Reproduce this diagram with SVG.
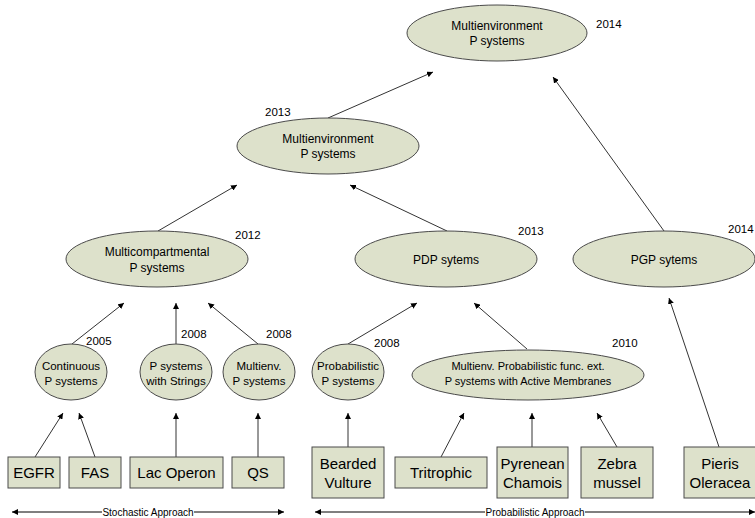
<svg xmlns="http://www.w3.org/2000/svg" width="755" height="518" viewBox="0 0 755 518">
<style>
.el{fill:#dde1cb;stroke:#4a4a4a;stroke-width:1}
.bx{fill:#dde1cb;stroke:#4a4a4a;stroke-width:1}
.et{font-family:"Liberation Sans",Arial,sans-serif;font-size:12px;fill:#000;text-anchor:middle}
.st{font-family:"Liberation Sans",Arial,sans-serif;font-size:11.5px;fill:#000;text-anchor:middle}
.sw{font-family:"Liberation Sans",Arial,sans-serif;font-size:11px;fill:#000;text-anchor:middle}
.bt{font-family:"Liberation Sans",Arial,sans-serif;font-size:15px;fill:#000;text-anchor:middle}
.yr{font-family:"Liberation Sans",Arial,sans-serif;font-size:11.5px;fill:#000}
.ax{font-family:"Liberation Sans",Arial,sans-serif;font-size:10px;fill:#000;text-anchor:middle}
.cn line{stroke:#333;stroke-width:1;marker-end:url(#ah)}
</style>
<defs>
<marker id="ah" viewBox="0 0 10 10" refX="10" refY="5" markerWidth="6" markerHeight="6" markerUnits="userSpaceOnUse" orient="auto-start-reverse">
<path d="M0,0 L10,5 L0,10 z" fill="#000"/>
</marker>
</defs>
<rect width="755" height="518" fill="#fff"/>

<g id="connectors" class="cn">
<line x1="328" y1="118" x2="433" y2="72"/>
<line x1="664" y1="231" x2="553" y2="77"/>
<line x1="158" y1="231" x2="237" y2="185"/>
<line x1="447" y1="231" x2="350" y2="185"/>
<line x1="72" y1="344" x2="124" y2="303"/>
<line x1="176" y1="344" x2="176" y2="303"/>
<line x1="258" y1="344" x2="208" y2="303"/>
<line x1="348" y1="344" x2="417" y2="303"/>
<line x1="527" y1="349" x2="474" y2="303"/>
<line x1="719" y1="447" x2="669" y2="298"/>
<line x1="35" y1="457" x2="63" y2="413"/>
<line x1="95" y1="457" x2="79" y2="413"/>
<line x1="176" y1="457" x2="176" y2="413"/>
<line x1="258" y1="457" x2="258" y2="413"/>
<line x1="348" y1="447" x2="348" y2="413"/>
<line x1="441" y1="457" x2="464" y2="413"/>
<line x1="532" y1="447" x2="532" y2="413"/>
<line x1="617" y1="447" x2="597" y2="413"/>
</g>

<g id="n-top">
<ellipse class="el" cx="497" cy="33" rx="90" ry="28"/>
<text class="et" x="497" y="30">Multienvironment</text>
<text class="et" x="497" y="45">P systems</text>
<text class="yr" x="596" y="28">2014</text>
</g>
<g id="n-multienv">
<ellipse class="el" cx="328" cy="146" rx="91" ry="28"/>
<text class="et" x="328" y="143">Multienvironment</text>
<text class="et" x="328" y="158">P systems</text>
<text class="yr" x="265" y="116">2013</text>
</g>
<g id="n-multicomp">
<ellipse class="el" cx="157" cy="259" rx="91" ry="28"/>
<text class="et" x="157" y="256">Multicompartmental</text>
<text class="et" x="157" y="272">P systems</text>
<text class="yr" x="235" y="239">2012</text>
</g>
<g id="n-pdp">
<ellipse class="el" cx="446" cy="259" rx="91" ry="28"/>
<text class="et" x="446" y="264">PDP sytems</text>
<text class="yr" x="518" y="235">2013</text>
</g>
<g id="n-pgp">
<ellipse class="el" cx="664" cy="259" rx="91" ry="28"/>
<text class="et" x="664" y="264">PGP sytems</text>
<text class="yr" x="728" y="233">2014</text>
</g>

<g id="n-continuous">
<ellipse class="el" cx="71" cy="372" rx="36" ry="28"/>
<text class="st" x="71" y="370">Continuous</text>
<text class="st" x="71" y="385">P systems</text>
<text class="yr" x="86" y="345">2005</text>
</g>
<g id="n-strings">
<ellipse class="el" cx="176" cy="372" rx="36" ry="28"/>
<text class="st" x="176" y="370">P systems</text>
<text class="st" x="176" y="385">with Strings</text>
<text class="yr" x="181" y="338">2008</text>
</g>
<g id="n-multienv2">
<ellipse class="el" cx="259" cy="372" rx="36" ry="28"/>
<text class="st" x="259" y="370">Multienv.</text>
<text class="st" x="259" y="385">P systems</text>
<text class="yr" x="266" y="338">2008</text>
</g>
<g id="n-prob">
<ellipse class="el" cx="348" cy="372" rx="36" ry="28"/>
<text class="st" x="348" y="370">Probabilistic</text>
<text class="st" x="348" y="385">P systems</text>
<text class="yr" x="374" y="347">2008</text>
</g>
<g id="n-multiprob">
<ellipse class="el" cx="528" cy="375" rx="116" ry="25"/>
<text class="sw" x="528" y="370">Multienv. Probabilistic func. ext.</text>
<text class="sw" x="528" y="385">P systems with Active Membranes</text>
<text class="yr" x="612" y="347">2010</text>
</g>

<g id="b-egfr"><rect class="bx" x="8" y="457" width="52" height="31"/><text class="bt" x="34" y="478">EGFR</text></g>
<g id="b-fas"><rect class="bx" x="69" y="457" width="52" height="31"/><text class="bt" x="95" y="478">FAS</text></g>
<g id="b-lac"><rect class="bx" x="130" y="457" width="93" height="31"/><text class="bt" x="176.5" y="478">Lac Operon</text></g>
<g id="b-qs"><rect class="bx" x="232" y="457" width="52" height="31"/><text class="bt" x="258" y="478">QS</text></g>
<g id="b-vulture"><rect class="bx" x="312" y="447" width="72" height="51"/><text class="bt" x="348" y="469">Bearded</text><text class="bt" x="348" y="488">Vulture</text></g>
<g id="b-tri"><rect class="bx" x="395" y="457" width="92" height="31"/><text class="bt" x="441" y="478">Tritrophic</text></g>
<g id="b-chamois"><rect class="bx" x="497" y="447" width="71" height="51"/><text class="bt" x="532.5" y="469">Pyrenean</text><text class="bt" x="532.5" y="488">Chamois</text></g>
<g id="b-zebra"><rect class="bx" x="581" y="447" width="72" height="51"/><text class="bt" x="617" y="469">Zebra</text><text class="bt" x="617" y="488">mussel</text></g>
<g id="b-pieris"><rect class="bx" x="684" y="447" width="72" height="51"/><text class="bt" x="720" y="469">Pieris</text><text class="bt" x="720" y="488">Oleracea</text></g>

<g id="axes">
<line x1="12" y1="512" x2="284" y2="512" stroke="#000" stroke-width="1" marker-start="url(#ah)" marker-end="url(#ah)"/>
<rect x="102" y="505" width="92" height="13" fill="#fff"/>
<text class="ax" x="148" y="515.5">Stochastic Approach</text>
<line x1="315" y1="512" x2="755" y2="512" stroke="#000" stroke-width="1" marker-start="url(#ah)" marker-end="url(#ah)"/>
<rect x="485" y="505" width="100" height="13" fill="#fff"/>
<text class="ax" x="535" y="515.5">Probabilistic Approach</text>
</g>
</svg>
